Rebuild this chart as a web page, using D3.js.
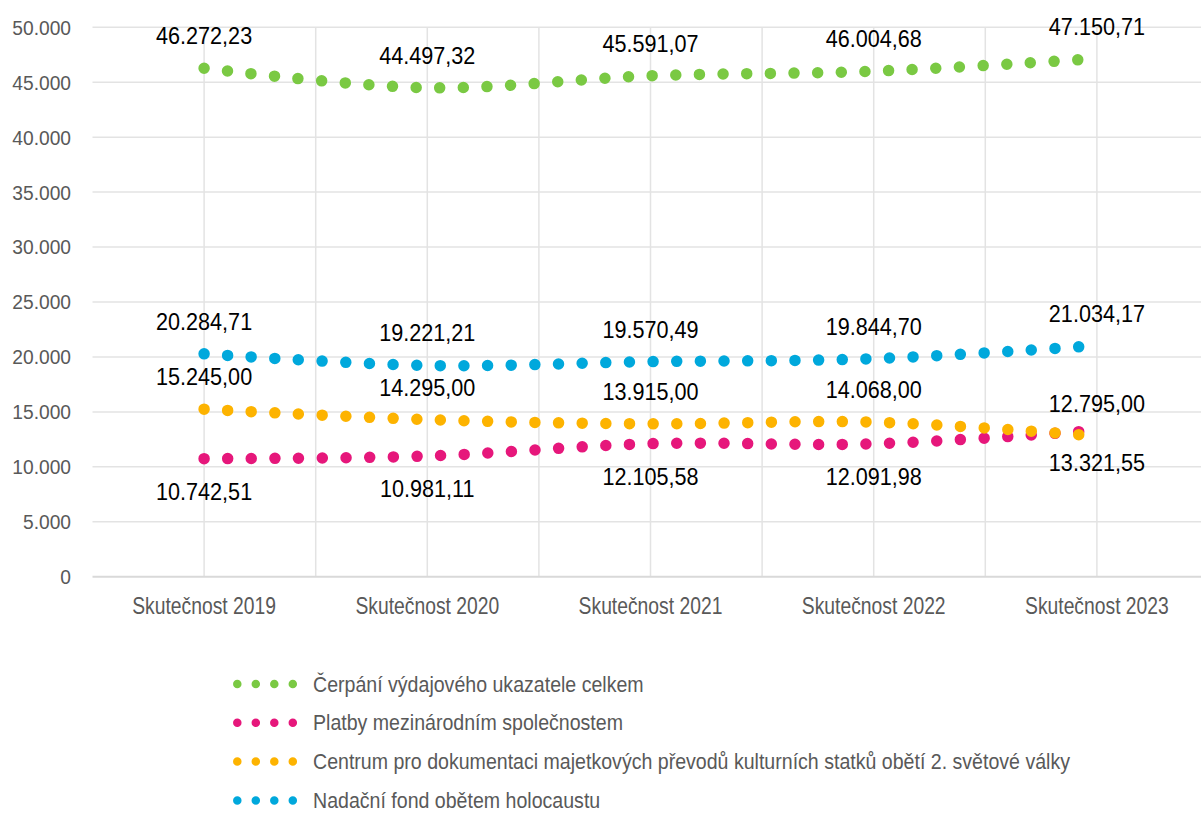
<!DOCTYPE html>
<html>
<head>
<meta charset="utf-8">
<script src="https://cdnjs.cloudflare.com/ajax/libs/d3/7.8.5/d3.min.js"></script>
<style>
  body { margin: 0; background: #fff; }
  svg { display: block; }
  text { font-family: "Liberation Sans", Arial, sans-serif; }
  .tick-label { fill: #595959; }
  .data-label { fill: #000; }
</style>
</head>
<body>
<div id="chart"></div>
<script>
'use strict';

var categories = ['Skutečnost 2019', 'Skutečnost 2020', 'Skutečnost 2021', 'Skutečnost 2022', 'Skutečnost 2023'];
var seriesNames = [
	'Čerpání výdajového ukazatele celkem',
	'Platby mezinárodním společnostem',
	'Centrum pro dokumentaci majetkových převodů kulturních statků obětí 2. světové války',
	'Nadační fond obětem holocaustu'
];
var celkem = [46272.23, 44497.32, 45591.07, 46004.68, 47150.71];
var platby = [10742.51, 10981.11, 12105.58, 12091.98, 13321.55];
var centrum = [15245.00, 14295.00, 13915.00, 14068.00, 12795.00];
var nadacniFond = [20284.71, 19221.21, 19570.49, 19844.70, 21034.17];
var yTicks = [0, 5000, 10000, 15000, 20000, 25000, 30000, 35000, 40000, 45000, 50000];

var colors = ['#7ac943', '#e6177b', '#fdb300', '#00a8dc'];
var labelBelow = [false, true, false, false];
var allSeries = [celkem, platby, centrum, nadacniFond];

var width = 1201, height = 813;
var plot = { left: 92.5, right: 1208.5, top: 27.3, bottom: 576.7 };

var svg = d3.select('#chart').append('svg')
	.attr('width', width)
	.attr('height', height);

var x = d3.scaleBand().domain(categories).range([plot.left, plot.right]);
var y = d3.scaleLinear().domain([0, 50000]).range([plot.bottom, plot.top]);
function cx(c) { return x(c) + x.bandwidth() / 2; }

var czFormat = d3.formatLocale({ decimal: ',', thousands: '.', grouping: [3], currency: ['', ' Kč'] });
var fmtTick = czFormat.format(',.0f');
var fmtLabel = czFormat.format(',.2f');

// the original font is a narrow sans, so squeeze Liberation Sans horizontally
function narrow(sel, fx, fy, sx) {
	return sel.attr('transform', function (d, i) {
		return 'translate(' + fx(d, i) + ',' + fy(d, i) + ') scale(' + sx + ',1)';
	});
}

// gridlines
var grid = svg.append('g');
grid.selectAll('line.h').data(yTicks.filter(function (t) { return t > 0; })).enter()
	.append('line')
	.attr('x1', plot.left).attr('x2', width)
	.attr('y1', function (d) { return y(d); }).attr('y2', function (d) { return y(d); })
	.style('stroke', '#e3e3e3').style('stroke-width', 1.5);

var vLines = [];
categories.forEach(function (c) { vLines.push(x(c)); vLines.push(cx(c)); });
grid.selectAll('line.v').data(vLines.slice(1)).enter()
	.append('line')
	.attr('x1', function (d) { return d; }).attr('x2', function (d) { return d; })
	.attr('y1', plot.top).attr('y2', plot.bottom)
	.style('stroke', '#e3e3e3').style('stroke-width', 1.5);

svg.append('line')
	.attr('x1', plot.left).attr('x2', width)
	.attr('y1', y(0)).attr('y2', y(0))
	.style('stroke', '#d9d9d9').style('stroke-width', 2);

// y tick labels
narrow(svg.append('g').selectAll('text').data(yTicks).enter()
	.append('text')
	.attr('class', 'tick-label')
	.attr('text-anchor', 'end')
	.style('font-size', '20px')
	.text(function (d) { return fmtTick(d); }),
	function () { return 71; }, function (d) { return y(d) + 7.4; }, 0.96);

// x tick labels
narrow(svg.append('g').selectAll('text').data(categories).enter()
	.append('text')
	.attr('class', 'tick-label')
	.attr('text-anchor', 'middle')
	.style('font-size', '23px')
	.text(function (d) { return d; }),
	function (d) { return cx(d); }, function () { return 613.5; }, 0.84);

var line = d3.line()
	.x(function (d, i) { return cx(categories[i]); })
	.y(function (d) { return y(d); })
	.curve(d3.curveCatmullRom.alpha(0.5));

var lines = svg.append('g');
allSeries.forEach(function (values, s) {
	lines.append('path')
		.attr('d', line(values))
		.style('fill', 'none')
		.style('stroke', colors[s])
		.style('stroke-width', 11.5)
		.style('stroke-linecap', 'round')
		.style('stroke-dasharray', '0 23.65');
});

var labels = svg.append('g');
allSeries.forEach(function (values, s) {
	narrow(labels.selectAll(null).data(values).enter()
		.append('text')
		.attr('class', 'data-label')
		.attr('text-anchor', 'middle')
		.style('font-size', '24px')
		.text(function (d) { return fmtLabel(d); }),
		function (d, i) { return cx(categories[i]); },
		function (d) { return y(d) + (labelBelow[s] ? 41 : -24); }, 0.9);
});

// legend
var legend = svg.append('g');
seriesNames.forEach(function (name, s) {
	var ly = 684 + s * 38.8;
	legend.append('line')
		.attr('x1', 237.3).attr('x2', 293)
		.attr('y1', ly).attr('y2', ly)
		.style('stroke', colors[s])
		.style('stroke-width', 8.5)
		.style('stroke-linecap', 'round')
		.style('stroke-dasharray', '0 18.5');
	legend.append('text')
		.attr('class', 'tick-label')
		.attr('transform', 'translate(313,' + (ly + 7.5) + ') scale(0.89,1)')
		.style('font-size', '22px')
		.text(name);
});
</script>
</body>
</html>
